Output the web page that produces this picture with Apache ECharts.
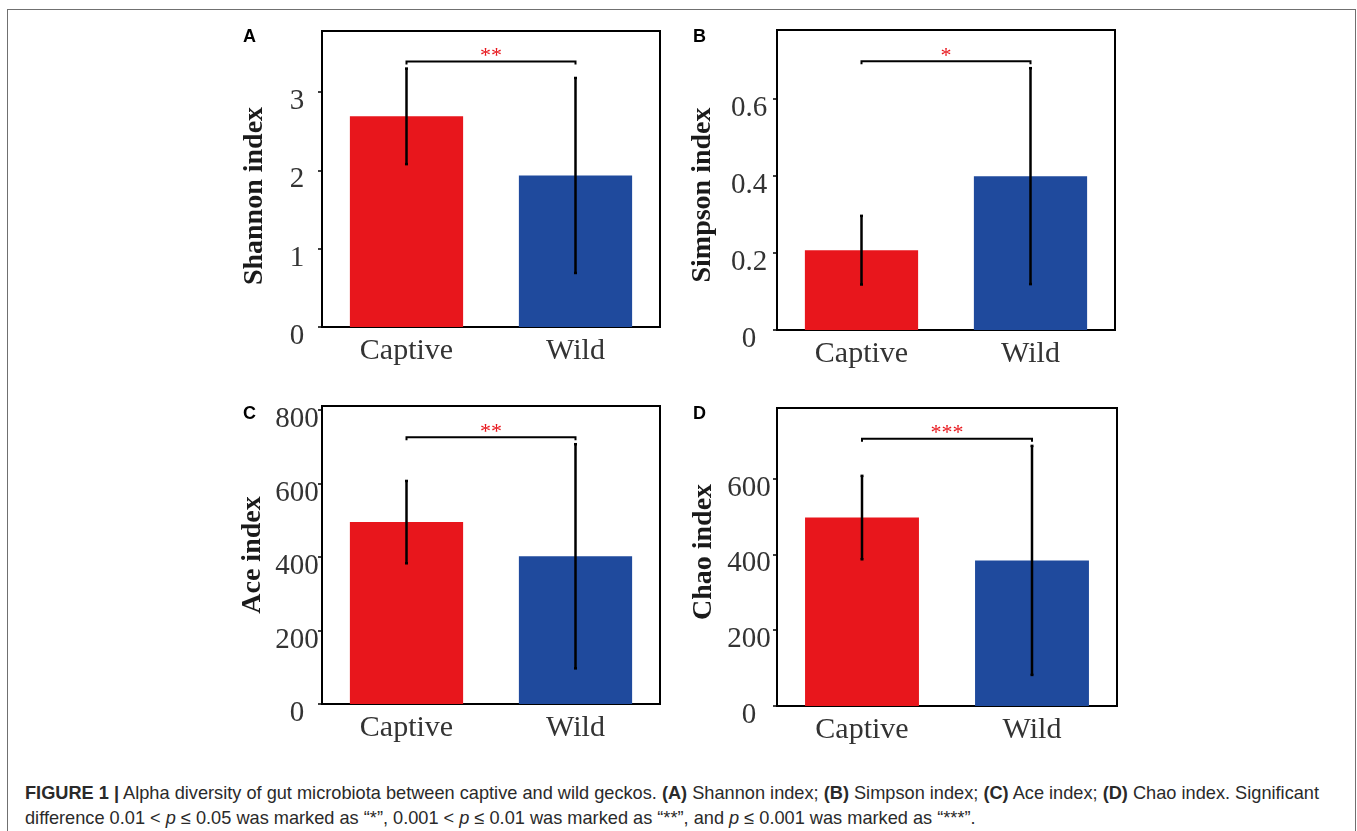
<!DOCTYPE html>
<html>
<head>
<meta charset="utf-8">
<script src="https://cdn.jsdelivr.net/npm/echarts@6/dist/echarts.min.js"></script>
<style>
  html, body { margin: 0; padding: 0; background: #fff; }
  #frame { position: absolute; left: 7px; top: 9px; width: 1347px; height: 900px; border: 1.5px solid #707070; border-bottom: none; }
  #chart { position: absolute; left: 0; top: 0; width: 1357px; height: 780px; }
  #caption { position: absolute; left: 25px; top: 781px; font-family: 'Liberation Sans', Arial, sans-serif; font-size: 18.2px; line-height: 25px; color: #2a2a2a; white-space: nowrap; }
  #caption b { font-weight: bold; }
</style>
</head>
<body>
<div id="frame"></div>
<div id="chart"></div>
<div id="caption"><b>FIGURE 1 |</b> Alpha diversity of gut microbiota between captive and wild geckos. <b>(A)</b> Shannon index; <b>(B)</b> Simpson index; <b>(C)</b> Ace index; <b>(D)</b> Chao index. Significant<br>difference 0.01 &lt; <i>p</i> &le; 0.05 was marked as &ldquo;*&rdquo;, 0.001 &lt; <i>p</i> &le; 0.01 was marked as &ldquo;**&rdquo;, and <i>p</i> &le; 0.001 was marked as &ldquo;***&rdquo;.</div>
<script>
const groups = ['Captive', 'Wild'];

const shannonMean = [2.69, 1.935];
const shannonSd = [0.61, 1.245];
const simpsonMean = [0.207, 0.399];
const simpsonSd = [0.089, 0.28];
const aceMean = [495, 402];
const aceSd = [112, 305];
const chaoMean = [497, 384];
const chaoSd = [110, 302];

const shannonTicks = [0, 1, 2, 3];
const simpsonTicks = [0, 0.2, 0.4, 0.6];
const aceTicks = [0, 200, 400, 600, 800];
const chaoTicks = [0, 200, 400, 600];

const titles = ['Shannon index', 'Simpson index', 'Ace index', 'Chao index'];
const letters = ['A', 'B', 'C', 'D'];
const sigMarks = ['**', '*', '**', '***'];
const bracketLevels = [3.39, 0.697, 726, 705];

const RED = '#e8161c';
const BLUE = '#1f4a9d';

// layout of the four panels
const panels = [
  { mean: shannonMean, sd: shannonSd, ticks: shannonTicks, max: 3.78, grid: { left: 322, top: 31, width: 338, height: 296 }, labelMargin: 25, title: [255, 196], letter: [243, 37] },
  { mean: simpsonMean, sd: simpsonSd, ticks: simpsonTicks, max: 0.778, grid: { left: 777, top: 30, width: 338, height: 300 }, labelMargin: 28, title: [703, 195], letter: [693, 37] },
  { mean: aceMean, sd: aceSd, ticks: aceTicks, max: 811, grid: { left: 322, top: 406, width: 338, height: 298 }, labelMargin: 25, title: [253, 555], letter: [243, 414] },
  { mean: chaoMean, sd: chaoSd, ticks: chaoTicks, max: 786, grid: { left: 777, top: 408, width: 340, height: 298 }, labelMargin: 28, title: [704, 552], letter: [693, 414] }
];

function errRender(params, api) {
  const x = api.value(0);
  const lo = api.coord([x, api.value(1)]);
  const hi = api.coord([x, api.value(2)]);
  const c = 1.5;
  const st = { stroke: '#000', lineWidth: 2.5 };
  return {
    type: 'group',
    children: [
      { type: 'line', shape: { x1: lo[0], y1: lo[1], x2: hi[0], y2: hi[1] }, style: st },
      { type: 'line', shape: { x1: hi[0] - c, y1: hi[1], x2: hi[0] + c, y2: hi[1] }, style: st },
      { type: 'line', shape: { x1: lo[0] - c, y1: lo[1], x2: lo[0] + c, y2: lo[1] }, style: st }
    ]
  };
}

function bracketRender(k) {
  return function (params, api) {
    const a = api.coord([api.value(0), api.value(2)]);
    const b = api.coord([api.value(1), api.value(2)]);
    return {
      type: 'group',
      children: [
        { type: 'polyline', shape: { points: [[a[0], a[1] + 3], [a[0], a[1]], [b[0], b[1]], [b[0], b[1] + 3]] }, style: { stroke: '#000', lineWidth: 2, fill: null } },
        { type: 'text', style: { text: sigMarks[k], x: (a[0] + b[0]) / 2, y: a[1] + 6, align: 'center', verticalAlign: 'bottom', fill: RED, font: '22px "Liberation Serif"' } }
      ]
    };
  };
}

const grids = [], xAxes = [], yAxes = [], series = [], graphics = [];

panels.forEach((p, k) => {
  grids.push(Object.assign({ show: true, borderColor: '#000', borderWidth: 2, backgroundColor: 'transparent' }, p.grid));
  xAxes.push({
    type: 'category', gridIndex: k, data: groups,
    axisLine: { lineStyle: { color: '#000', width: 2 } },
    axisTick: { alignWithLabel: true, length: 4, lineStyle: { color: '#000', width: 1.5 } },
    axisLabel: { color: '#333', fontFamily: 'Liberation Serif', fontSize: 30, margin: 9 }
  });
  yAxes.push({
    type: 'value', gridIndex: k, min: 0, max: p.max,
    splitLine: { show: false },
    axisLine: { show: true, lineStyle: { color: '#000', width: 2 } },
    axisTick: { show: true, length: 4, customValues: p.ticks, lineStyle: { color: '#000', width: 1.5 } },
    axisLabel: { customValues: p.ticks, color: '#333', fontFamily: 'Liberation Serif', fontSize: 29, margin: p.labelMargin, align: 'center', verticalAlign: 'top', lineHeight: 19 }
  });
  series.push({
    type: 'bar', xAxisIndex: k, yAxisIndex: k, barWidth: '67%', silent: true,
    data: p.mean.map((v, i) => ({ value: v, itemStyle: { color: i === 0 ? RED : BLUE } }))
  });
  series.push({
    type: 'custom', xAxisIndex: k, yAxisIndex: k, silent: true, z: 5,
    renderItem: errRender,
    data: p.mean.map((v, i) => [i, v - p.sd[i], v + p.sd[i]])
  });
  series.push({
    type: 'custom', xAxisIndex: k, yAxisIndex: k, silent: true, z: 5,
    renderItem: bracketRender(k),
    data: [[0, 1, bracketLevels[k]]]
  });
  graphics.push({
    type: 'text', x: p.title[0], y: p.title[1], rotation: Math.PI / 2,
    style: { text: titles[k], font: 'bold 28px "Liberation Serif"', fill: '#1a1a1a', align: 'center', verticalAlign: 'middle' }
  });
  graphics.push({
    type: 'text', x: p.letter[0], y: p.letter[1],
    style: { text: letters[k], font: 'bold 18px "Liberation Sans"', fill: '#000', align: 'left', verticalAlign: 'middle' }
  });
});

const chart = echarts.init(document.getElementById('chart'), null, { renderer: 'canvas' });
chart.setOption({
  animation: false,
  backgroundColor: 'transparent',
  grid: grids,
  xAxis: xAxes,
  yAxis: yAxes,
  series: series,
  graphic: graphics
});
</script>
</body>
</html>
